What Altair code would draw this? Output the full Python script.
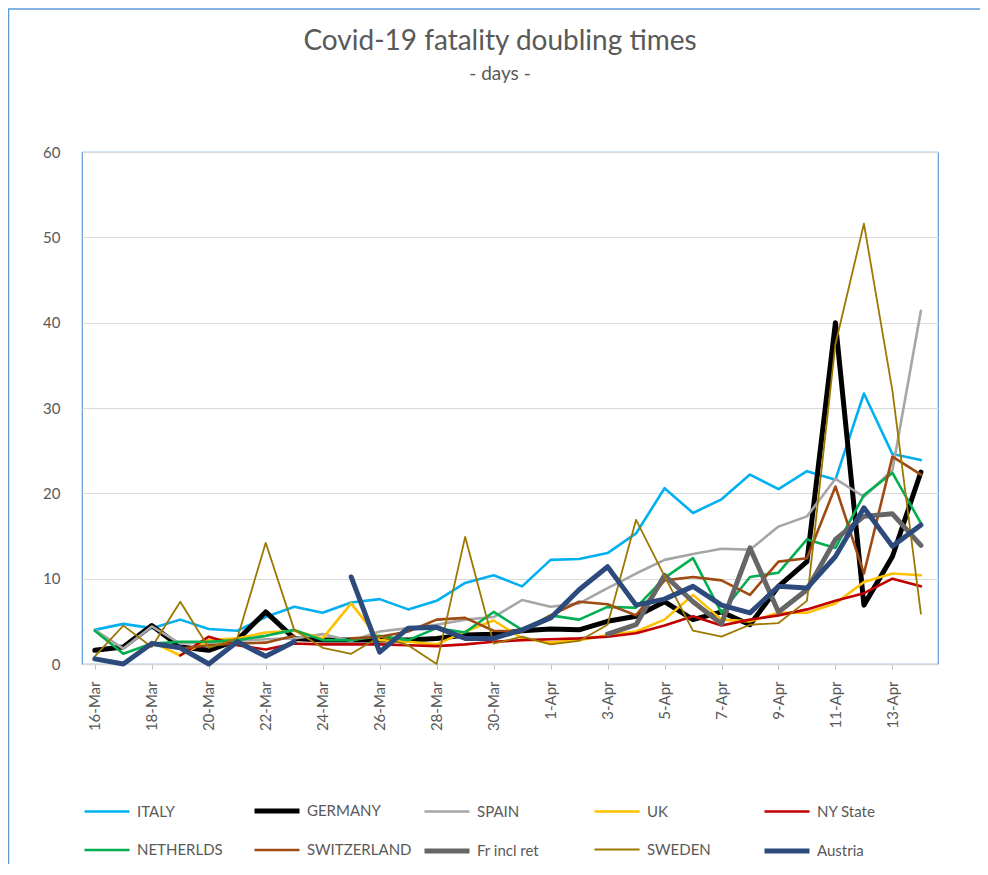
import altair as alt
import pandas as pd

days = ['16-Mar', '17-Mar', '18-Mar', '19-Mar', '20-Mar', '21-Mar', '22-Mar', '23-Mar',
        '24-Mar', '25-Mar', '26-Mar', '27-Mar', '28-Mar', '29-Mar', '30-Mar', '31-Mar',
        '1-Apr', '2-Apr', '3-Apr', '4-Apr', '5-Apr', '6-Apr', '7-Apr', '8-Apr',
        '9-Apr', '10-Apr', '11-Apr', '12-Apr', '13-Apr', '14-Apr']

italy = [4.0, 4.7, 4.2, 5.2, 4.1, 3.9, 5.5, 6.7, 6.0, 7.2, 7.6, 6.4, 7.4, 9.5, 10.4,
         9.1, 12.2, 12.3, 13.0, 15.3, 20.6, 17.7, 19.3, 22.2, 20.5, 22.6, 21.6, 31.7, 24.6, 23.9]
germany = [1.6, 2.0, 4.5, 2.0, 1.6, 2.8, 6.1, 3.0, 2.8, 2.8, 2.8, 2.8, 3.0, 3.4, 3.5,
           3.9, 4.1, 4.0, 5.0, 5.6, 7.3, 5.2, 6.1, 4.6, 9.1, 12.0, 40.0, 6.9, 12.6, 22.5]
spain = [4.0, 1.8, 4.4, 2.4, 2.5, 2.7, 2.9, 3.0, 3.5, 2.7, 3.8, 4.2, 4.6, 5.2, 5.5,
         7.5, 6.7, 7.1, 8.9, 10.6, 12.2, 12.9, 13.5, 13.4, 16.1, 17.3, 21.7, 19.6, 22.7, 41.4]
uk = [None, None, 2.6, 1.0, 2.8, 3.0, 3.7, 3.9, 3.0, 7.1, 2.8, 2.6, 2.3, 3.8, 5.1,
      3.0, 2.5, 2.8, 3.4, 3.8, 5.2, 8.1, 5.2, 5.0, 6.0, 6.0, 7.1, 9.6, 10.6, 10.4]
ny_state = [None, None, None, 1.0, 3.2, 2.2, 1.7, 2.4, 2.3, 2.3, 2.3, 2.2, 2.1, 2.3, 2.6,
            2.8, 2.9, 3.0, 3.2, 3.6, 4.5, 5.6, 4.5, 5.2, 5.7, 6.4, 7.4, 8.3, 10.0, 9.1]
netherlands = [3.9, 1.2, 2.4, 2.6, 2.6, 2.8, 3.3, 4.0, 2.8, 2.8, 3.3, 2.8, 4.2, 3.7, 6.1,
               4.0, 5.7, 5.2, 6.7, 6.6, 10.1, 12.4, 6.0, 10.2, 10.7, 14.6, 13.6, 19.8, 22.4, 16.5]
switzerland = [None, None, None, 1.8, 2.2, 2.4, 2.5, 3.3, None, 3.0, 3.2, 3.8, 5.2, 5.4, 3.9,
               3.8, 5.7, 7.3, 7.0, 5.7, 9.8, 10.2, 9.8, 8.1, 12.0, 12.4, 20.8, 10.6, 24.3, 22.2]
france = [None] * 18 + [3.5, 4.6, 10.4, 7.3, 4.7, 13.6, 6.1, 8.7, 14.6, 17.3, 17.6, 13.9]
sweden = [0.9, 4.5, 2.0, 7.3, 1.9, 3.0, 14.2, 4.0, 1.9, 1.2, 3.2, 2.2, 0.0, 14.9, 2.4,
          3.2, 2.3, 2.7, 4.6, 16.9, 10.3, 3.9, 3.2, 4.6, 4.8, 7.4, 37.5, 51.6, 32.0, 5.9]
austria = [0.6, 0.0, 2.4, 1.9, 0.0, 2.6, 0.9, 2.6, None, 10.2, 1.4, 4.2, 4.3, 3.0, 3.0,
           4.0, 5.4, 8.7, 11.4, 6.9, 7.6, 9.1, 6.9, 6.0, 9.1, 8.9, 12.6, 18.3, 13.8, 16.3]

series_names = ['ITALY', 'GERMANY', 'SPAIN', 'UK', 'NY State',
                'NETHERLDS', 'SWITZERLAND', 'Fr incl ret', 'SWEDEN', 'Austria']
series_values = [italy, germany, spain, uk, ny_state,
                 netherlands, switzerland, france, sweden, austria]
colors = ['#00B0F0', '#000000', '#A6A6A6', '#FFC000', '#C00000',
          '#00B050', '#9E4A12', '#666666', '#9C7800', '#2C4A7C']
widths = [2.6, 5.0, 2.6, 2.6, 2.6, 2.6, 2.6, 5.0, 1.8, 5.0]

rows = []
for name, vals in zip(series_names, series_values):
    for i, v in enumerate(vals):
        rows.append({'series': name, 'day': i, 'value': v})
df = pd.DataFrame(rows)

even_labels = days[::2]
label_expr = "[" + ",".join("'" + d + "'" for d in even_labels) + "][datum.value / 2]"

FONT = 'Lato'
TXT = '#595959'

color_scale = alt.Scale(domain=series_names, range=colors)
width_scale = alt.Scale(type='ordinal', domain=series_names, range=widths)

x_enc = alt.X('day:Q',
              scale=alt.Scale(domain=[-0.45, 29.6], nice=False, zero=False),
              axis=alt.Axis(values=list(range(0, 30, 2)), labelExpr=label_expr,
                            labelAngle=-90, labelFontSize=15, labelColor=TXT, labelFont=FONT,
                            labelPadding=12, grid=False, tickSize=5, tickColor='#BFBFBF',
                            domainColor='#D9D9D9', domainWidth=1.5, title=None))
y_enc = alt.Y('value:Q',
              scale=alt.Scale(domain=[0, 60], nice=False),
              axis=alt.Axis(values=list(range(0, 61, 10)), labelFontSize=15, labelColor=TXT,
                            labelFont=FONT, labelPadding=22, grid=True, gridColor='#D9D9D9',
                            gridWidth=1.2, domain=False, ticks=False, title=None))

legend = alt.Legend(title=None, orient='none', legendX=0, legendY=634, columns=5,
                    direction='horizontal', gridAlign='all', columnPadding=2, rowPadding=5,
                    symbolType='stroke', symbolSize=2025, labelFontSize=15,
                    labelColor=TXT, labelFont=FONT, labelOffset=5, padding=0)

layers = []
for idx, name in enumerate(series_names):
    layer = alt.Chart(df).transform_filter(
        alt.datum.series == name
    ).mark_line(strokeJoin='round', strokeCap='round',
                invalid='break-paths-show-domains').encode(
        x=x_enc,
        y=y_enc,
        color=alt.Color('series:N', scale=color_scale, legend=legend),
        strokeWidth=alt.StrokeWidth('series:N', scale=width_scale, legend=legend),
    )
    layers.append(layer)

frame = alt.Chart(pd.DataFrame({'k': [0]})).mark_rect(
    filled=False, stroke='#5B9BD5', strokeWidth=1.5
).encode(x=alt.value(-73.5), x2=alt.value(1100), y=alt.value(-143), y2=alt.value(1000))

chart = alt.layer(frame, *layers).properties(
    width=856, height=512,
    title=alt.TitleParams(text='Covid-19 fatality doubling times', subtitle='- days -',
                          fontSize=28, font=FONT, fontWeight='normal', color=TXT,
                          subtitleFontSize=19, subtitleFont=FONT, subtitleColor=TXT,
                          subtitlePadding=9, anchor='middle', frame='group',
                          dx=-10, offset=-76),
    autosize=alt.AutoSizeParams(type='none'),
    padding={'left': 74, 'top': 144, 'right': 42, 'bottom': 200},
).configure_view(stroke='#5B9BD5', strokeWidth=1.2)

chart.save('out.html', embed_options={'renderer': 'svg', 'actions': False})
